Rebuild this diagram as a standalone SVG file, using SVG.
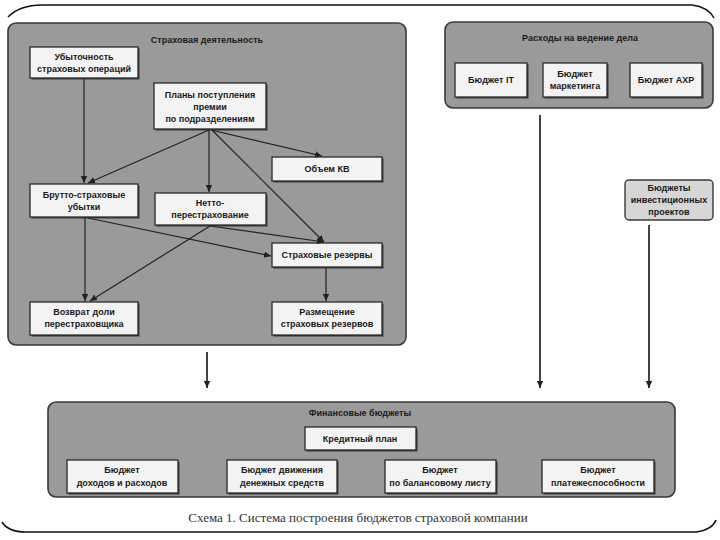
<svg xmlns="http://www.w3.org/2000/svg" width="720" height="540" viewBox="0 0 720 540">
<defs>
<marker id="ah" markerWidth="8" markerHeight="8" refX="7" refY="4" orient="auto" markerUnits="userSpaceOnUse">
<path d="M0,0.8 L7,4 L0,7.2 Z" fill="#222"/>
</marker>
<style>
.frame{fill:none;stroke:#111;stroke-width:1.5}
.panel{fill:#9a9a9a;stroke:#3a3a3a;stroke-width:1.6}
.node{fill:#f3f3f3;stroke:#2a2a2a;stroke-width:1.3}
.shadow{fill:#3a3a3a}
.inv{fill:#d6d6d6;stroke:#3a3a3a;stroke-width:1.4}
.t{font-family:"Liberation Sans",Arial,sans-serif;font-size:9px;font-weight:bold;fill:#1a1a1a;text-anchor:middle}
.cap{font-family:"Liberation Serif","Times New Roman",serif;font-size:13px;fill:#333;text-anchor:middle}
.c{stroke:#222;stroke-width:1.2;fill:none;marker-end:url(#ah)}
.cv{stroke:#444;stroke-width:2;fill:none;marker-end:url(#ah)}
</style>
</defs>
<rect width="720" height="540" fill="#ffffff"/>
<path class="frame" d="M8,17 Q20,5 42,5 L692,5 Q708,7 714,18"/>
<path class="frame" d="M2,522 Q8,532 26,532 L696,532 Q712,530 716,520"/>

<g id="panel-insurance">
<rect class="panel" x="8" y="23" width="398" height="322" rx="8"/>
<text class="t" x="207" y="43">Страховая деятельность</text>
</g>
<g id="panel-expenses">
<rect class="panel" x="445" y="22" width="268" height="86" rx="8"/>
<text class="t" x="580" y="41">Расходы на ведение дела</text>
</g>
<g id="panel-finance">
<rect class="panel" x="48" y="402" width="627" height="95" rx="8"/>
<text class="t" x="360" y="416">Финансовые бюджеты</text>
</g>

<g id="n-loss">
<rect class="shadow" x="31.5" y="48.5" width="108" height="31"/>
<rect class="node" x="30" y="47" width="108" height="31"/>
<text class="t" x="84" y="60">Убыточность</text>
<text class="t" x="84" y="72">страховых операций</text>
</g>
<g id="n-plans">
<rect class="shadow" x="155.5" y="84.5" width="112" height="46"/>
<rect class="node" x="154" y="83" width="112" height="46"/>
<text class="t" x="210" y="98">Планы поступления</text>
<text class="t" x="210" y="110">премии</text>
<text class="t" x="210" y="122">по подразделениям</text>
</g>
<g id="n-kv">
<rect class="shadow" x="273.5" y="158.5" width="110" height="24"/>
<rect class="node" x="272" y="157" width="110" height="24"/>
<text class="t" x="327" y="172">Объем КВ</text>
</g>
<g id="n-gross">
<rect class="shadow" x="31.5" y="185.5" width="108" height="33"/>
<rect class="node" x="30" y="184" width="108" height="33"/>
<text class="t" x="84" y="198">Брутто-страховые</text>
<text class="t" x="84" y="210">убытки</text>
</g>
<g id="n-net">
<rect class="shadow" x="156.5" y="194.5" width="111" height="32"/>
<rect class="node" x="155" y="193" width="111" height="32"/>
<text class="t" x="210" y="206">Нетто-</text>
<text class="t" x="210" y="218">перестрахование</text>
</g>
<g id="n-reserves">
<rect class="shadow" x="273.5" y="244.5" width="110" height="24"/>
<rect class="node" x="272" y="243" width="110" height="24"/>
<text class="t" x="327" y="258">Страховые резервы</text>
</g>
<g id="n-return">
<rect class="shadow" x="31.5" y="303.5" width="108" height="33"/>
<rect class="node" x="30" y="302" width="108" height="33"/>
<text class="t" x="84" y="315">Возврат доли</text>
<text class="t" x="84" y="327">перестраховщика</text>
</g>
<g id="n-placement">
<rect class="shadow" x="273.5" y="303.5" width="110" height="33"/>
<rect class="node" x="272" y="302" width="110" height="33"/>
<text class="t" x="327" y="315">Размещение</text>
<text class="t" x="327" y="327">страховых резервов</text>
</g>

<g id="n-it">
<rect class="shadow" x="456.5" y="64.5" width="72" height="34"/>
<rect class="node" x="455" y="63" width="72" height="34"/>
<text class="t" x="491" y="83">Бюджет IT</text>
</g>
<g id="n-marketing">
<rect class="shadow" x="544.5" y="64.5" width="64" height="34"/>
<rect class="node" x="543" y="63" width="64" height="34"/>
<text class="t" x="575" y="77">Бюджет</text>
<text class="t" x="575" y="89">маркетинга</text>
</g>
<g id="n-axr">
<rect class="shadow" x="631.5" y="64.5" width="72" height="34"/>
<rect class="node" x="630" y="63" width="72" height="34"/>
<text class="t" x="666" y="83">Бюджет АХР</text>
</g>
<g id="n-invest">
<rect class="inv" x="625" y="180" width="88" height="40" rx="4"/>
<text class="t" x="669" y="191">Бюджеты</text>
<text class="t" x="669" y="203">инвестиционных</text>
<text class="t" x="669" y="215">проектов</text>
</g>

<g id="n-credit">
<rect class="shadow" x="306.5" y="428.5" width="111" height="23"/>
<rect class="node" x="305" y="427" width="111" height="23"/>
<text class="t" x="360" y="442">Кредитный план</text>
</g>
<g id="n-income">
<rect class="shadow" x="68.5" y="461.5" width="111" height="33"/>
<rect class="node" x="67" y="460" width="111" height="33"/>
<text class="t" x="122" y="473">Бюджет</text>
<text class="t" x="122" y="486">доходов и расходов</text>
</g>
<g id="n-cash">
<rect class="shadow" x="228.5" y="461.5" width="110" height="33"/>
<rect class="node" x="227" y="460" width="110" height="33"/>
<text class="t" x="282" y="473">Бюджет движения</text>
<text class="t" x="282" y="486">денежных средств</text>
</g>
<g id="n-balance">
<rect class="shadow" x="386.5" y="461.5" width="111" height="33"/>
<rect class="node" x="385" y="460" width="111" height="33"/>
<text class="t" x="440" y="473">Бюджет</text>
<text class="t" x="440" y="486">по балансовому листу</text>
</g>
<g id="n-solvency">
<rect class="shadow" x="543.5" y="461.5" width="112" height="33"/>
<rect class="node" x="542" y="460" width="112" height="33"/>
<text class="t" x="598" y="473">Бюджет</text>
<text class="t" x="598" y="486">платежеспособности</text>
</g>

<g id="connectors">
<line class="c" x1="84" y1="79" x2="84" y2="183"/>
<line class="c" x1="209" y1="130" x2="88" y2="183"/>
<line class="c" x1="209" y1="130" x2="209" y2="192"/>
<line class="c" x1="211" y1="130" x2="322" y2="156"/>
<line class="c" x1="212" y1="130" x2="324" y2="242"/>
<line class="c" x1="88" y1="218" x2="271" y2="256"/>
<line class="c" x1="210" y1="226" x2="324" y2="242"/>
<line class="c" x1="85" y1="218" x2="85" y2="301"/>
<line class="c" x1="210" y1="226" x2="90" y2="301"/>
<line class="c" x1="326" y1="268" x2="326" y2="301"/>
<line class="cv" x1="207" y1="352" x2="207" y2="388"/>
<line class="cv" x1="540" y1="115" x2="540" y2="388"/>
<line class="cv" x1="649" y1="225" x2="649" y2="388"/>
</g>

<text class="cap" x="358" y="522">Схема 1. Система построения бюджетов страховой компании</text>
</svg>
